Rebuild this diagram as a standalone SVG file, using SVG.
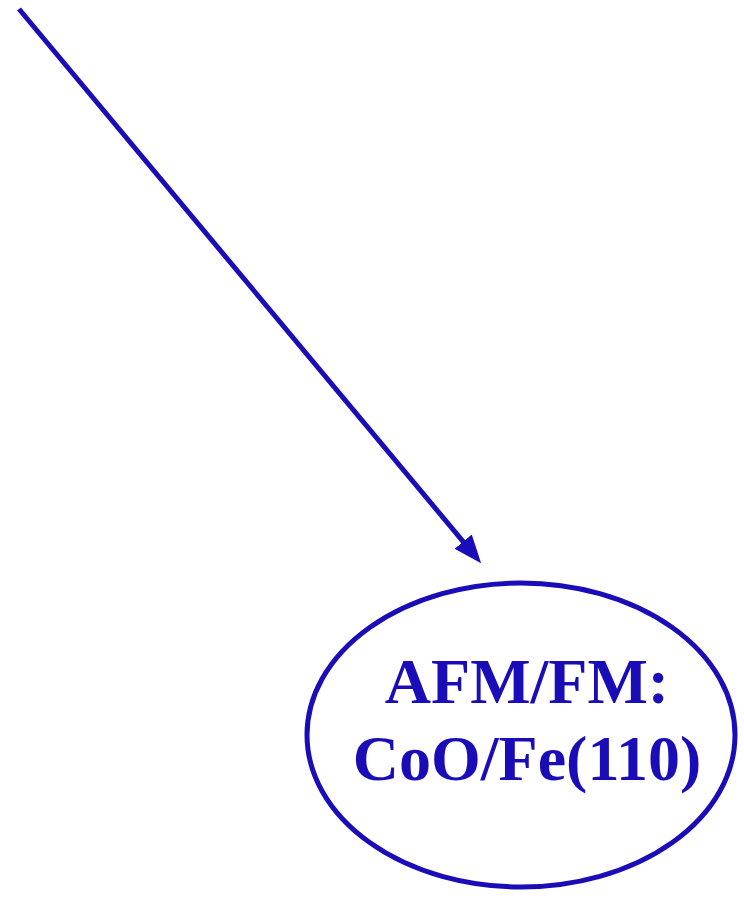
<svg xmlns="http://www.w3.org/2000/svg" width="744" height="909" viewBox="0 0 744 909">
<style>
.c{stroke:#1a0db8;stroke-width:5;fill:none}
.t{font-family:"Liberation Serif",serif;font-weight:bold;font-size:64px;fill:#1a0db8;text-anchor:middle}
</style>
<defs>
<marker id="a" viewBox="0 0 10 10" refX="7.1" refY="5" markerWidth="28" markerHeight="28" markerUnits="userSpaceOnUse" orient="auto">
<path d="M0,1 L10,5 L0,9 z" fill="#1a0db8"/>
</marker>
</defs>
<g id="connectors">
<line class="c" x1="19" y1="9" x2="475.9" y2="556.9" marker-end="url(#a)"/>
</g>
<g id="node1">
<ellipse class="c" cx="521" cy="735" rx="214" ry="152"/>
<text class="t" x="527" y="703">AFM/FM:</text>
<text class="t" x="527" y="780">CoO/Fe(110)</text>
</g>
</svg>
